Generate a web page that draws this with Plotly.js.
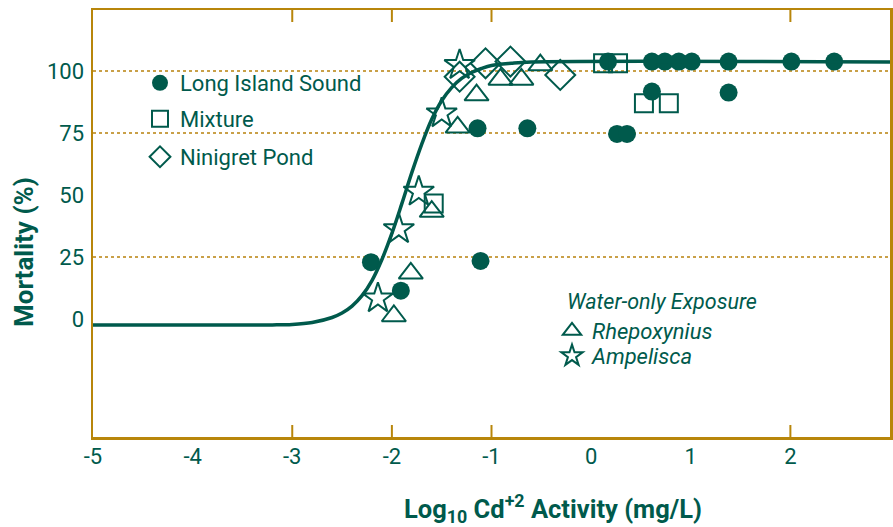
<!DOCTYPE html>
<html>
<head>
<meta charset="utf-8">
<script src="https://cdn.plot.ly/plotly-3.0.1.min.js"></script>
<style>html,body{margin:0;padding:0;background:#fff;}</style>
</head>
<body>
<div id="chart" style="width:893px;height:527px;"></div>
<script>
// ---- data ----
const xTickVals = [-5, -4, -3, -2, -1, 0, 1, 2, 3];
const xTickText = ['-5', '-4', '-3', '-2', '-1', '0', '1', '2', '3'];
const xInnerTicks = [-3, -2, -1, 2];
const yTickVals = [0, 25, 50, 75, 100];
const yTickText = ['0', '25', '50', '75', '100'];
const yGridVals = [25, 75, 100];

// fitted curve
const curveX = [-5, -3.2, -3.0, -2.8, -2.6, -2.5, -2.4, -2.3, -2.2, -2.1, -2.0, -1.9, -1.8, -1.7, -1.6, -1.5, -1.4, -1.3, -1.2, -1.1, -1.0, -0.8, -0.6, 3];
const curveY = [-2.4, -2.4, -2.2, -1.4, 0.6, 2.4, 5.2, 9.4, 15.5, 24, 34.5, 46.5, 59, 70.5, 80.5, 88, 93.3, 97, 99.4, 101, 102.2, 103.1, 103.6, 103.6];

const lisX = [-2.21, -1.91, -1.11, -1.14, -0.64, 0.17, 0.61, 0.74, 0.88, 1.01, 1.38, 2.01, 2.44, 0.61, 1.38, 0.26, 0.36];
const lisY = [22.9, 11.4, 23.4, 76.9, 76.9, 103.8, 103.8, 103.8, 103.8, 103.8, 103.8, 103.8, 103.8, 91.7, 91.3, 74.6, 74.6];

const mixX = [-1.58, 0.12, 0.27, 0.53, 0.78];
const mixY = [46.6, 103.1, 103.1, 87.0, 87.0];

const ninX = [-1.32, -1.06, -0.81, -0.31];
const ninY = [97.7, 103.1, 103.8, 98.4];

const rheX = [-1.81, -1.98, -1.60, -1.34, -1.15, -0.91, -0.70, -0.51];
const rheY = [18.4, 1.2, 43.3, 77.3, 90.3, 96.6, 96.6, 102.4];

const ampX = [-2.14, -1.93, -1.73, -1.50, -1.32];
const ampY = [8.3, 36.2, 51.3, 82.9, 102.4];

// ---- styles ----
const GREEN = '#005a4c';
const GOLD = '#b8860b';
const FONT = 'Roboto, "Liberation Sans", sans-serif';
const PLOT_H = 427;
const TICK_LEN = 12;

const traces = [
  // curve drawn on (x, y2) so the labelled y axis is rendered
  {x: curveX, y: curveY, xaxis: 'x', yaxis: 'y2', mode: 'lines',
   line: {color: GREEN, width: 3.5, shape: 'spline'}, showlegend: false, hoverinfo: 'skip'},
  {x: lisX, y: lisY, mode: 'markers', name: 'Long Island Sound', legend: 'legend',
   marker: {symbol: 'circle', size: 18, color: GREEN}},
  // mixture drawn on (x2, y) so the labelled x axis is rendered
  {x: mixX, y: mixY, xaxis: 'x2', yaxis: 'y', mode: 'markers', name: 'Mixture', legend: 'legend2',
   marker: {symbol: 'square-open', size: 18, color: GREEN, line: {width: 2}}},
  {x: ninX, y: ninY, mode: 'markers', name: 'Ninigret Pond', legend: 'legend3',
   marker: {symbol: 'diamond-open', size: 23, color: GREEN, line: {width: 2}}},
  {x: rheX, y: rheY, mode: 'markers', name: '<i>Rhepoxynius</i>', legend: 'legend4',
   marker: {symbol: 'triangle-up-open', size: 21, color: GREEN, line: {width: 2}}},
  {x: ampX, y: ampY, mode: 'markers', name: '<i>Ampelisca</i>', legend: 'legend5',
   marker: {symbol: 'star-open', size: 23, color: GREEN, line: {width: 2}}}
];

function px2x(px) { return (px - 93) / 797; }
function py2y(py) { return (437 - py) / 427; }
function leg(px, py) {
  return {x: px2x(px - 20), y: py2y(py), xanchor: 'left', yanchor: 'middle',
    bgcolor: 'rgba(0,0,0,0)', borderwidth: 0,
    font: {family: FONT, size: 22, color: GREEN}};
}

// inside tick marks (bottom and top) at the few tick values of the original
const tickShapes = [];
xInnerTicks.forEach(v => {
  tickShapes.push({type: 'line', xref: 'x', yref: 'paper', x0: v, x1: v, y0: 0, y1: TICK_LEN / PLOT_H,
    line: {color: GOLD, width: 2}, layer: 'below'});
  tickShapes.push({type: 'line', xref: 'x', yref: 'paper', x0: v, x1: v, y0: 1, y1: 1 - TICK_LEN / PLOT_H,
    line: {color: GOLD, width: 2}, layer: 'below'});
});

const yr = [-47.6, 124.6];
const xr = [-5, 3];
const layout = {
  width: 893, height: 527,
  margin: {l: 93, r: 3, t: 10, b: 90},
  paper_bgcolor: '#fff', plot_bgcolor: '#fff',
  font: {family: FONT, color: GREEN, size: 22},
  xaxis: {range: xr, tickmode: 'array', tickvals: xInnerTicks, showticklabels: false, ticks: '',
    showgrid: false, zeroline: false, showline: true, mirror: true, linecolor: GOLD, linewidth: 2.5},
  xaxis2: {overlaying: 'x', anchor: 'y', range: xr, tickmode: 'array', tickvals: xTickVals,
    ticktext: xTickText, ticks: '', showgrid: false, zeroline: false, showline: false,
    ticklabelstandoff: 4, tickfont: {family: FONT, size: 22, color: GREEN}},
  yaxis: {range: yr, tickmode: 'array', tickvals: yGridVals, showticklabels: false, ticks: '',
    showgrid: true, gridcolor: '#c9a048', griddash: 'dot', gridwidth: 1.2,
    zeroline: false, showline: true, mirror: true, linecolor: GOLD, linewidth: 2.5},
  yaxis2: {overlaying: 'y', anchor: 'x', side: 'left', range: yr, tickmode: 'array',
    tickvals: yTickVals, ticktext: yTickText, ticks: '', showgrid: false, zeroline: false,
    showline: false, ticklabelstandoff: 8,
    tickfont: {family: FONT, size: 22, color: GREEN}},
  shapes: tickShapes,
  showlegend: true,
  legend: leg(160, 83),
  legend2: leg(160, 119),
  legend3: leg(160, 157),
  legend4: leg(572, 331),
  legend5: leg(572, 356),
  annotations: [
    {xref: 'paper', yref: 'paper', x: px2x(565), y: py2y(301), xanchor: 'left', yanchor: 'middle',
     text: '<i>Water-only Exposure</i>', showarrow: false,
     font: {family: FONT, size: 21.5, color: GREEN}},
    {xref: 'paper', yref: 'paper', x: px2x(553), y: py2y(508), xanchor: 'center', yanchor: 'middle',
     text: '<b>Log<sub>10</sub> Cd<sup>+2</sup> Activity (mg/L)</b>', showarrow: false,
     font: {family: FONT, size: 25.5, color: GREEN}},
    {xref: 'paper', yref: 'paper', x: px2x(24), y: py2y(252), xanchor: 'center', yanchor: 'middle',
     text: '<b>Mortality (%)</b>', textangle: -90, showarrow: false,
     font: {family: FONT, size: 26, color: GREEN}}
  ]
};

Plotly.newPlot('chart', traces, layout, {displayModeBar: false, staticPlot: true});
</script>
</body>
</html>
